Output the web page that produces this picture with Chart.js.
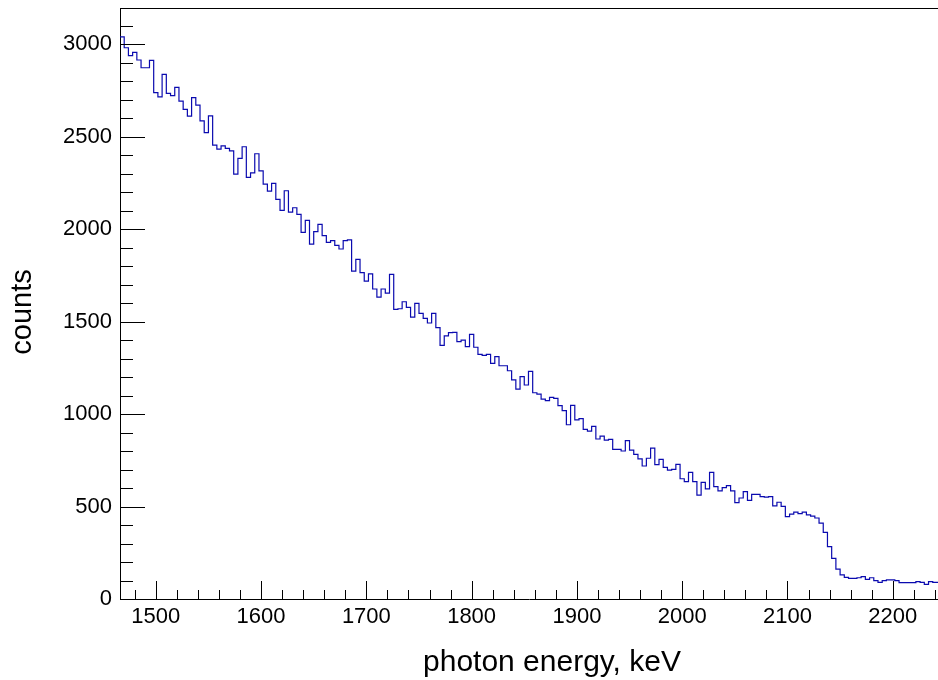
<!DOCTYPE html>
<html>
<head>
<meta charset="utf-8">
<script src="https://cdn.jsdelivr.net/npm/chart.js@4.4.1/dist/chart.umd.min.js"></script>
<style>
  html, body { margin: 0; padding: 0; background: #fff; }
  #wrap { width: 938px; height: 680px; position: relative; }
</style>
</head>
<body>
<div id="wrap"><canvas id="spectrum"></canvas></div>
<script>
// histogram: 4 keV bins, first bin low edge at 1466 keV
const binStart = 1466;
const binWidth = 4;
const counts = [
  3039, 2980, 2937, 2955, 2914, 2872, 2872, 2912, 2737, 2714,
  2836, 2733, 2721, 2766, 2692, 2647, 2611, 2710, 2670, 2585,
  2521, 2612, 2454, 2432, 2450, 2436, 2423, 2297, 2382, 2445,
  2279, 2304, 2407, 2315, 2243, 2205, 2247, 2160, 2101, 2207,
  2092, 2115, 2079, 1982, 2047, 1919, 1986, 2025, 1964, 1928,
  1937, 1912, 1892, 1937, 1941, 1773, 1836, 1764, 1719, 1758,
  1676, 1632, 1676, 1654, 1755, 1566, 1569, 1607, 1577, 1524,
  1598, 1544, 1517, 1492, 1544, 1467, 1371, 1422, 1440, 1441,
  1391, 1400, 1364, 1431, 1361, 1323, 1317, 1323, 1274, 1310,
  1261, 1261, 1234, 1185, 1135, 1202, 1157, 1231, 1115, 1108,
  1081, 1072, 1090, 1085, 1045, 1018, 942, 1047, 968, 975,
  917, 908, 933, 865, 881, 859, 863, 809, 809, 800,
  856, 805, 782, 757, 719, 761, 816, 726, 755, 712,
  697, 701, 728, 650, 634, 685, 634, 562, 631, 595,
  685, 607, 585, 602, 613, 585, 521, 546, 580, 533,
  566, 566, 553, 551, 553, 503, 523, 501, 445, 459,
  470, 462, 470, 455, 448, 438, 410, 360, 283, 220,
  161, 130, 117, 112, 112, 115, 121, 106, 115, 99,
  90, 99, 103, 103, 99, 88, 88, 88, 88, 94,
  90, 79, 94, 90, 90
];

const xMajorTicks = [1500, 1600, 1700, 1800, 1900, 2000, 2100, 2200];
const xMinorTicks = [1480, 1520, 1540, 1560, 1580, 1620, 1640, 1660, 1680, 1720, 1740, 1760, 1780,
  1820, 1840, 1860, 1880, 1920, 1940, 1960, 1980, 2020, 2040, 2060, 2080,
  2120, 2140, 2160, 2180, 2220, 2240];
const yMajorTicks = [0, 500, 1000, 1500, 2000, 2500, 3000];
const yMinorTicks = [100, 200, 300, 400, 600, 700, 800, 900, 1100, 1200, 1300, 1400,
  1600, 1700, 1800, 1900, 2100, 2200, 2300, 2400, 2600, 2700, 2800, 2900, 3100];

const xRange = [1466, 2243];
const yRange = [0, 3195];

// bin low edges -> step points, plus closing edge of the last bin
const points = counts.map((c, i) => ({ x: binStart + i * binWidth, y: c }));
points.push({ x: binStart + counts.length * binWidth, y: counts[counts.length - 1] });

const FONT = "'Liberation Sans', Arial, Helvetica, sans-serif";

// ROOT-like frame: ticks pointing inside, top border, axis titles
const rootFrame = {
  id: 'rootFrame',
  afterDatasetsDraw(chart) {
    const { ctx, chartArea: a, scales: { x, y } } = chart;
    ctx.save();
    ctx.strokeStyle = '#000';
    ctx.lineWidth = 1;
    ctx.beginPath();
    ctx.moveTo(a.left, a.top + 0.5);
    ctx.lineTo(a.right, a.top + 0.5);
    xMajorTicks.forEach(v => {
      const px = Math.round(x.getPixelForValue(v)) + 0.5;
      ctx.moveTo(px, a.bottom);
      ctx.lineTo(px, a.bottom - 18);
    });
    xMinorTicks.forEach(v => {
      const px = Math.round(x.getPixelForValue(v)) + 0.5;
      ctx.moveTo(px, a.bottom);
      ctx.lineTo(px, a.bottom - 9);
    });
    yMajorTicks.forEach(v => {
      const py = Math.round(y.getPixelForValue(v)) + 0.5;
      ctx.moveTo(a.left, py);
      ctx.lineTo(a.left + 25, py);
    });
    yMinorTicks.forEach(v => {
      const py = Math.round(y.getPixelForValue(v)) + 0.5;
      ctx.moveTo(a.left, py);
      ctx.lineTo(a.left + 13, py);
    });
    ctx.stroke();

    ctx.fillStyle = '#000';
    ctx.font = '30px ' + FONT;
    ctx.textAlign = 'center';
    ctx.textBaseline = 'alphabetic';
    ctx.fillText('photon energy, keV', 552, 671);

    ctx.font = '29px ' + FONT;
    ctx.translate(31, 312);
    ctx.rotate(-Math.PI / 2);
    ctx.fillText('counts', 0, 0);
    ctx.restore();
  }
};

new Chart(document.getElementById('spectrum').getContext('2d'), {
  type: 'line',
  data: {
    datasets: [{
      data: points,
      stepped: 'before',
      borderColor: 'rgb(10, 10, 175)',
      borderWidth: 1.2,
      pointRadius: 0,
      fill: false
    }]
  },
  options: {
    responsive: true,
    maintainAspectRatio: false,
    animation: false,
    events: [],
    layout: { padding: { left: 0, right: 0, top: 8, bottom: 0 } },
    plugins: { legend: { display: false }, tooltip: { enabled: false } },
    scales: {
      x: {
        type: 'linear',
        min: xRange[0],
        max: xRange[1],
        afterBuildTicks: s => { s.ticks = xMajorTicks.map(v => ({ value: v })); },
        afterFit: s => { s.height = 81; s.paddingLeft = 0; s.paddingRight = 0; },
        grid: { display: false, drawTicks: false },
        border: { display: true, color: '#000', width: 1 },
        ticks: {
          autoSkip: false,
          maxRotation: 0,
          padding: 5,
          color: '#000',
          font: { family: FONT, size: 22 },
          callback: v => String(v)
        }
      },
      y: {
        type: 'linear',
        min: yRange[0],
        max: yRange[1],
        afterBuildTicks: s => { s.ticks = yMajorTicks.map(v => ({ value: v })); },
        afterFit: s => { s.width = 120; s.paddingTop = 0; s.paddingBottom = 0; },
        grid: { display: false, drawTicks: false },
        border: { display: true, color: '#000', width: 1 },
        ticks: {
          padding: 8,
          color: '#000',
          font: { family: FONT, size: 22 },
          callback: v => String(v)
        }
      }
    }
  },
  plugins: [rootFrame]
});
</script>
</body>
</html>
